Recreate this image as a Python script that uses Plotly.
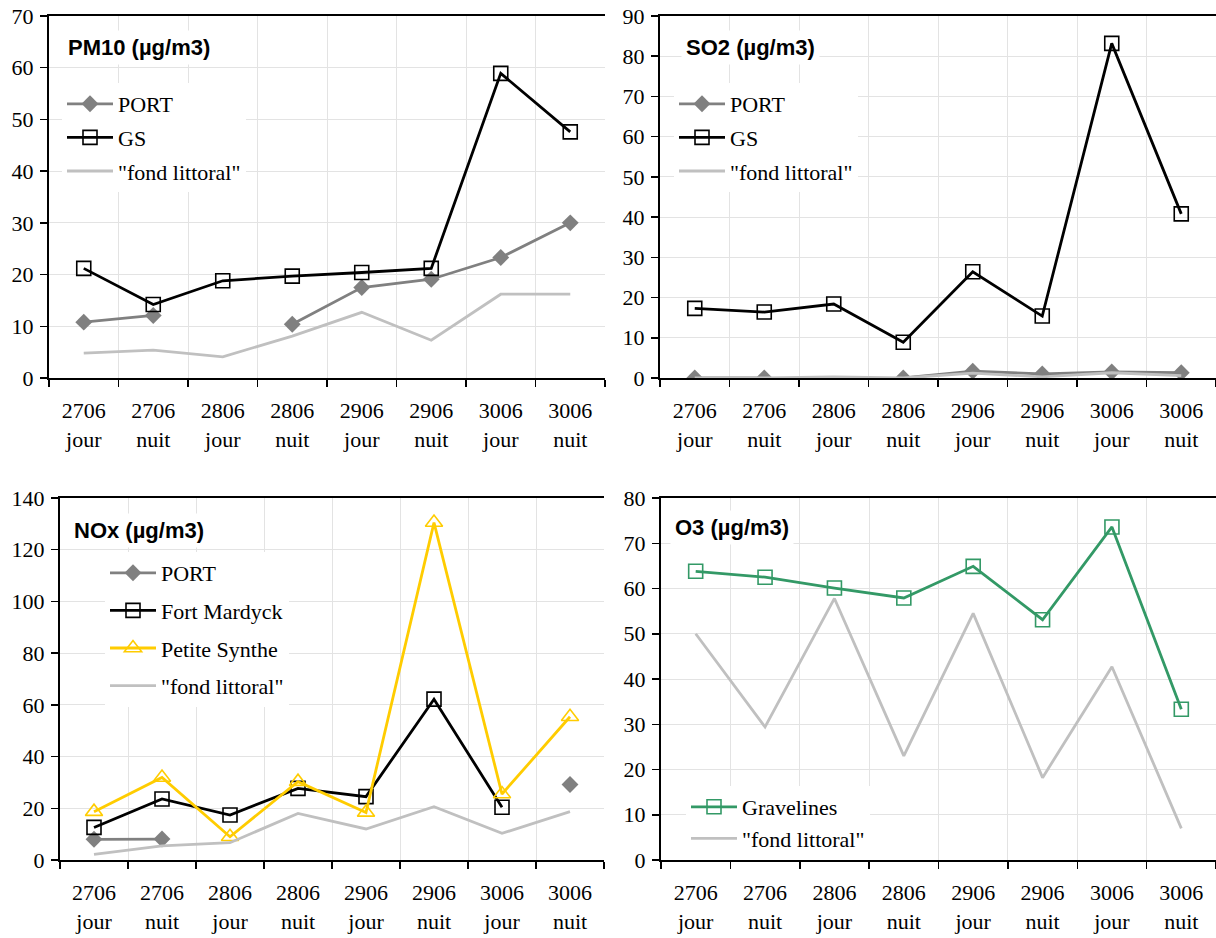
import plotly.graph_objects as go

categories = ["2706<br>jour", "2706<br>nuit", "2806<br>jour", "2806<br>nuit",
              "2906<br>jour", "2906<br>nuit", "3006<br>jour", "3006<br>nuit"]

pm10_port = [10.8, 12.1, None, 10.4, 17.5, 19.1, 23.3, 30.0]
pm10_gs = [21.2, 14.2, 18.8, 19.7, 20.4, 21.2, 58.9, 47.6]
pm10_fond = [4.8, 5.4, 4.1, 8.1, 12.7, 7.3, 16.2, 16.2]

so2_port = [0.0, 0.0, None, 0.0, 1.7, 1.0, 1.5, 1.3]
so2_gs = [17.3, 16.4, 18.4, 8.9, 26.4, 15.4, 83.2, 40.8]
so2_fond = [0.0, 0.0, 0.3, 0.0, 1.2, 0.3, 1.3, 0.6]

nox_port = [8.0, 8.1, None, None, None, None, None, 29.2]
nox_fort_mardyck = [12.6, 23.6, 17.4, 27.7, 24.5, 62.2, 20.4, None]
nox_petite_synthe = [18.7, 31.9, 9.0, 30.3, 18.4, 130.5, 25.5, 55.4]
nox_fond = [2.2, 5.5, 6.7, 18.0, 12.0, 20.6, 10.3, 18.7]

o3_gravelines = [63.8, 62.5, 60.1, 57.9, 64.9, 53.1, 73.6, 33.3]
o3_fond = [50.0, 29.4, 57.8, 23.0, 54.5, 18.2, 42.7, 7.0]

# the page body margin is removed by a post script, so the figure fills the window
OFF = 0
W, H = 1216 - OFF, 938 - OFF
GREY = "#808080"
LIGHT = "#c0c0c0"
BLACK = "#000000"
YELLOW = "#ffcc00"
GREEN = "#339966"
SERIF = "Liberation Serif"
SANS = "Liberation Sans"

fig = go.Figure()

def px_x(p):
    return min(1.0, max(0.0, (p - OFF) / W))

def px_y(p):
    return min(1.0, max(0.0, 1 - (p - OFF) / H))

panels = [
    # (xaxis id, yaxis id, x0, x1, ytop, ybottom, ymax, dtick)
    ("x", "y", 49, 605, 16, 378, 70, 10),
    ("x2", "y2", 660, 1216, 16, 378, 90, 10),
    ("x3", "y3", 60, 604, 498, 860, 140, 20),
    ("x4", "y4", 661, 1216, 498, 860, 80, 10),
]

def add(panel_idx, name, y, color, symbol, legend, msize=12):
    xa, ya = panels[panel_idx][0], panels[panel_idx][1]
    mode = "lines" if symbol is None else "lines+markers"
    marker = dict(size=msize, color=color)
    if symbol is not None:
        marker["symbol"] = symbol
        if symbol.endswith("open"):
            marker["line"] = dict(width=1.6, color=color)
    fig.add_trace(go.Scatter(
        x=categories, y=y, name=name, mode=mode, xaxis=xa, yaxis=ya,
        line=dict(color=color, width=2.8), marker=marker,
        legend=legend, legendgroup=legend + name, connectgaps=False,
        showlegend=True,
    ))

add(0, "PORT", pm10_port, GREY, "diamond", "legend", 13)
add(0, "GS", pm10_gs, BLACK, "square-open", "legend", 14)
add(0, "\"fond littoral\"", pm10_fond, LIGHT, None, "legend")

add(1, "PORT", so2_port, GREY, "diamond", "legend2", 13)
add(1, "GS", so2_gs, BLACK, "square-open", "legend2", 14)
add(1, "\"fond littoral\"", so2_fond, LIGHT, None, "legend2")

add(2, "PORT", nox_port, GREY, "diamond", "legend3", 13)
add(2, "Fort Mardyck", nox_fort_mardyck, BLACK, "square-open", "legend3", 14)
add(2, "Petite Synthe", nox_petite_synthe, YELLOW, "triangle-up-open", "legend3", 15)
add(2, "\"fond littoral\"", nox_fond, LIGHT, None, "legend3")

add(3, "Gravelines", o3_gravelines, GREEN, "square-open", "legend4", 14)
add(3, "\"fond littoral\"", o3_fond, LIGHT, None, "legend4")

layout = dict(
    width=W, height=H,
    margin=dict(l=0, r=0, t=0, b=0, pad=0, autoexpand=False),
    paper_bgcolor="white", plot_bgcolor="white",
    font=dict(family=SERIF, size=22, color="black"),
)

for i, (xa, ya, x0, x1, yt, yb, ymax, dt) in enumerate(panels):
    xk = "xaxis" + ("" if i == 0 else str(i + 1))
    yk = "yaxis" + ("" if i == 0 else str(i + 1))
    layout[xk] = dict(
        domain=[px_x(x0), px_x(x1)], anchor=ya,
        type="category", categoryorder="array", categoryarray=categories,
        range=[-0.5, 7.5], automargin=False,
        tickson="boundaries", ticks="outside", ticklen=7, tickwidth=1.5,
        tickcolor="black",
        showgrid=True, gridcolor="#e3e3e3", gridwidth=1,
        showline=True, linecolor="black", linewidth=2, mirror=True,
        tickfont=dict(family=SERIF, size=22, color="black"),
        ticklabelstandoff=12, ticklabeloverflow="allow", fixedrange=True,
    )
    layout[yk] = dict(
        domain=[px_y(yb), px_y(yt)], anchor=xa,
        range=[0, ymax], dtick=dt, tick0=0, automargin=False,
        ticks="outside", ticklen=7, tickwidth=1.5, tickcolor="black",
        showgrid=True, gridcolor="#e3e3e3", gridwidth=1,
        showline=True, linecolor="black", linewidth=2, mirror=False,
        zeroline=False,
        tickfont=dict(family=SERIF, size=22, color="black"),
        ticklabelstandoff=2, ticklabeloverflow="allow",
        fixedrange=True,
    )

leg_common = dict(
    bgcolor="white", borderwidth=0, xanchor="left", yanchor="top",
    font=dict(family=SERIF, size=22, color="black"),
    orientation="v", itemwidth=46, traceorder="grouped",
)
layout["legend"] = dict(leg_common, x=px_x(62), y=px_y(83), tracegroupgap=2)
layout["legend2"] = dict(leg_common, x=px_x(674), y=px_y(83), tracegroupgap=2)
layout["legend3"] = dict(leg_common, x=px_x(105), y=px_y(552), tracegroupgap=6)
layout["legend4"] = dict(leg_common, x=px_x(686), y=px_y(786), tracegroupgap=0)

titles = [
    ("PM10 (µg/m3)", 63, 48),
    ("SO2 (µg/m3)", 681, 48),
    ("NOx (µg/m3)", 69, 530),
    ("O3 (µg/m3)", 670, 527),
]
annotations = []
for text, x, y in titles:
    annotations.append(dict(
        text="<b>" + text + "</b>", xref="paper", yref="paper",
        x=px_x(x), y=px_y(y), xanchor="left", yanchor="middle",
        showarrow=False, bgcolor="white", borderpad=4,
        font=dict(family=SANS, size=22, color="black"),
    ))
layout["annotations"] = annotations

fig.update_layout(**layout)
fig.write_html(
    "out.html",
    config={"displayModeBar": False, "staticPlot": True},
    post_script="document.body.style.margin='0';document.body.style.padding='0';",
)
